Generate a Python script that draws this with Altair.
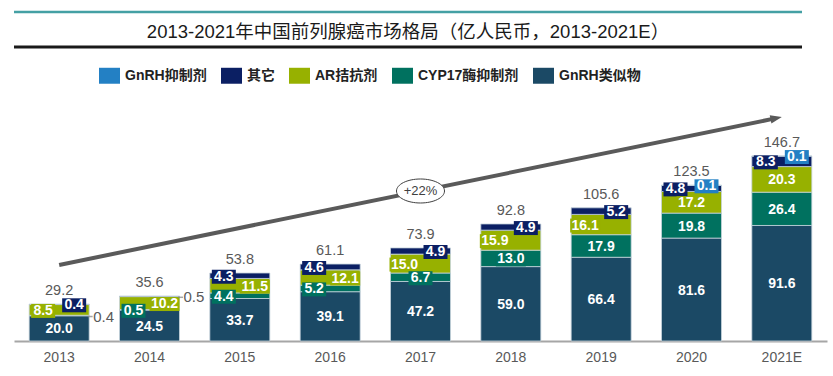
import math
import altair as alt
import pandas as pd

# ---------------- data ----------------
years = ["2013", "2014", "2015", "2016", "2017", "2018", "2019", "2020", "2021E"]
gnrh_analog = [20.0, 24.5, 33.7, 39.1, 47.2, 59.0, 66.4, 81.6, 91.6]   # GnRH类似物
cyp17_inhib = [0.4, 0.5, 4.4, 5.2, 6.7, 13.0, 17.9, 19.8, 26.4]        # CYP17酶抑制剂
ar_antag = [8.5, 10.2, 11.5, 12.1, 15.0, 15.9, 16.1, 17.2, 20.3]       # AR拮抗剂
others = [0.4, 0.5, 4.3, 4.6, 4.9, 4.9, 5.2, 4.8, 8.3]                 # 其它
gnrh_inhib = [0.0, 0.0, 0.0, 0.0, 0.0, 0.0, 0.0, 0.1, 0.1]             # GnRH抑制剂
totals = [29.2, 35.6, 53.8, 61.1, 73.9, 92.8, 105.6, 123.5, 146.7]

series_names = ["GnRH类似物", "CYP17酶抑制剂", "AR拮抗剂", "其它", "GnRH抑制剂"]  # bottom -> top
legend_order = ["GnRH抑制剂", "其它", "AR拮抗剂", "CYP17酶抑制剂", "GnRH类似物"]
series_colors = ["#2380c4", "#0b1f63", "#97b100", "#00715f", "#1b4965"]  # legend order

title_text = "2013-2021年中国前列腺癌市场格局（亿人民币，2013-2021E）"
cagr_text = "+22%"
arrow_values = [60.3, 177.6]  # trend arrow start (2013) and end (2021E), in 亿人民币

# ---------------- layout / style ----------------
W, H = 813, 227
Y_MAX = 180
FONT = "Liberation Sans, Noto Sans CJK SC"
GRAY = "#595959"

# where each segment label sits: L(eft) / C(enter) / R(ight) / O(utside with leader)
label_side = {
    ("2013", "CYP17酶抑制剂"): "O", ("2013", "AR拮抗剂"): "L", ("2013", "其它"): "R",
    ("2014", "CYP17酶抑制剂"): "L", ("2014", "AR拮抗剂"): "R", ("2014", "其它"): "O",
    ("2015", "CYP17酶抑制剂"): "L", ("2015", "AR拮抗剂"): "R", ("2015", "其它"): "L",
    ("2016", "CYP17酶抑制剂"): "L", ("2016", "AR拮抗剂"): "R", ("2016", "其它"): "L",
    ("2017", "AR拮抗剂"): "L", ("2017", "其它"): "R",
    ("2018", "AR拮抗剂"): "L", ("2018", "其它"): "R",
    ("2019", "AR拮抗剂"): "L", ("2019", "其它"): "R",
    ("2020", "其它"): "L", ("2020", "GnRH抑制剂"): "R",
    ("2021E", "其它"): "L", ("2021E", "GnRH抑制剂"): "R",
}
side_dx = {"L": -16, "C": 0, "R": 15}
BOX3 = "M-1,-0.583H1V0.583H-1Z"   # 24 x 14 box
BOX4 = "M-1,-0.467H1V0.467H-1Z"   # 30 x 14 box

# ---------------- build tables ----------------
rows = []
for i, yr in enumerate(years):
    base = 0.0
    for s, vals in zip(series_names, [gnrh_analog, cyp17_inhib, ar_antag, others, gnrh_inhib]):
        v = vals[i]
        if v <= 0:
            continue
        lab = f"{v:.1f}"
        rows.append(dict(
            year=yr, series=s, y0=base, y1=base + v, mid=base + v / 2, label=lab,
            side=label_side.get((yr, s), "C"), bottom=(s == series_names[0]),
            box=BOX4 if len(lab) > 3 else BOX3, boxsize=900 if len(lab) > 3 else 576,
        ))
        base += v
seg = pd.DataFrame(rows)
tot = pd.DataFrame({"year": years, "total": totals, "label": [f"{t:.1f}" for t in totals]})

color_scale = alt.Scale(domain=legend_order, range=series_colors)
x_dom = alt.Scale(domain=years, paddingInner=0.336, paddingOuter=0.168)
y_scale = alt.Scale(domain=[0, Y_MAX], nice=False, zero=True)
x_axis = alt.Axis(labelAngle=0, ticks=False, domainColor="#a6a6a6", domainWidth=2,
                  labelFontSize=14, labelColor=GRAY, labelFont=FONT, labelPadding=9, grid=False)


def X(axis=x_axis):
    return alt.X("year:N", sort=years, scale=x_dom, axis=axis, title=None)


def Y(field):
    return alt.Y(f"{field}:Q", scale=y_scale, axis=None)


bars = alt.Chart(seg).mark_bar(stroke="#c5d3dc", strokeWidth=0.8).encode(
    x=X(),
    y=Y("y0"), y2="y1:Q",
    color=alt.Color("series:N", scale=color_scale, title=None, legend=alt.Legend(
        orient="none", legendX=85, legendY=-49, direction="horizontal",
        symbolType="M-1,-0.76H1V0.76H-1Z", symbolSize=441, symbolStrokeWidth=0,
        labelFontSize=14, labelFontWeight="bold", labelColor="#222222", labelFont=FONT,
        labelOffset=5, columnPadding=14)),
)

layers = [bars]
for side, dx in side_dx.items():
    layers.append(
        alt.Chart(seg).transform_filter((alt.datum.side == side) & (alt.datum.bottom == False))
        .mark_point(filled=True, opacity=1, strokeWidth=0, xOffset=dx, yOffset=1)
        .encode(x=X(), y=Y("mid"), shape=alt.Shape("box:N", scale=None),
                size=alt.Size("boxsize:Q", scale=None),
                color=alt.Color("series:N", scale=color_scale, legend=None))
    )
for side, dx in side_dx.items():
    layers.append(
        alt.Chart(seg).transform_filter(alt.datum.side == side)
        .mark_text(dx=dx, dy=1, color="white", fontSize=14, font=FONT, fontWeight="bold")
        .encode(x=X(), y=Y("mid"), text="label:N")
    )
# outside labels with short leader
layers.append(
    alt.Chart(seg).transform_filter(alt.datum.side == "O")
    .mark_text(dx=34, dy=1, align="left", color=GRAY, fontSize=15, font=FONT)
    .encode(x=X(), y=Y("mid"), text="label:N")
)
layers.append(
    alt.Chart(seg).transform_filter(alt.datum.side == "O")
    .mark_tick(orient="horizontal", size=5, thickness=1.5, xOffset=31, yOffset=1, color="#808080")
    .encode(x=X(), y=Y("mid"))
)
# totals
layers.append(
    alt.Chart(tot).mark_text(dy=-13, color=GRAY, fontSize=14.5, font=FONT)
    .encode(x=X(), y=Y("total"), text="label:N")
)

# CAGR ellipse + text at the arrow's midpoint (2017)
cagr_df = pd.DataFrame({"year": [years[4]], "v": [sum(arrow_values) / 2], "t": [cagr_text]})
ELLIPSE = "M-1,0A1,0.5,0,1,1,1,0A1,0.5,0,1,1,-1,0Z"

# header decorations and title (pixel layout relative to plot area)
deco = pd.DataFrame({"k": [0]})
header = [
    alt.Chart(deco).mark_rule(color="#44a0a4", strokeWidth=2.5).encode(
        x=alt.value(0), x2=alt.value(788), y=alt.value(-102)),
    alt.Chart(deco).mark_rule(color="#1a1a1a", strokeWidth=3).encode(
        x=alt.value(0), x2=alt.value(788), y=alt.value(-67)),
    alt.Chart(deco).mark_text(fontSize=18.5, color="#1a1a1a", font=FONT).encode(
        x=alt.value(394), y=alt.value(-82), text=alt.value(title_text)),
]

# arrow group on an index scale (independent x)
n = len(years)
step = W / n
dx_px = (n - 1) * step
dy_px = (arrow_values[1] - arrow_values[0]) * H / Y_MAX
length = math.hypot(dx_px, dy_px)
t_end = 1 - 8 / length
angle = 90 - math.degrees(math.atan2(dy_px, dx_px))
x_idx = alt.Scale(domain=[-0.5, n - 0.5], nice=False, zero=False)
line_df = pd.DataFrame({
    "i": [0, (n - 1) * t_end],
    "v": [arrow_values[0], arrow_values[0] + t_end * (arrow_values[1] - arrow_values[0])],
})
head_df = pd.DataFrame({"i": [n - 1], "v": [arrow_values[1]]})
arrow_line = alt.Chart(line_df).mark_line(color="#5a5a5a", strokeWidth=4, strokeCap="butt").encode(
    x=alt.X("i:Q", scale=x_idx, axis=None), y=Y("v"))
arrow_head = alt.Chart(head_df).mark_point(
    shape="M0,0L0.42,1.15L-0.42,1.15Z", size=400, filled=True, opacity=1, strokeWidth=0,
    color="#5a5a5a", angle=angle).encode(x=alt.X("i:Q", scale=x_idx, axis=None), y=Y("v"))

cagr_layers = [
    alt.Chart(cagr_df).mark_point(shape=ELLIPSE, size=2304, filled=True, fill="white", opacity=1,
                                  stroke="#404040", strokeWidth=1).encode(x=X(None), y=Y("v")),
    alt.Chart(cagr_df).mark_text(fontSize=13, color="#404040", font=FONT).encode(
        x=X(None), y=Y("v"), text="t:N"),
]

main = alt.layer(*layers, *header)
arrow = alt.layer(arrow_line, arrow_head)
top = alt.layer(*cagr_layers)

chart = alt.layer(main, arrow, top).resolve_scale(x="independent").properties(
    width=W, height=H,
    background="white",
    autosize=alt.AutoSizeParams(type="none"),
    padding={"left": 14, "top": 114, "right": 6, "bottom": 35},
).configure_view(stroke="transparent", strokeWidth=0)

chart.save("out.html", embed_options={"renderer": "svg", "actions": False})
